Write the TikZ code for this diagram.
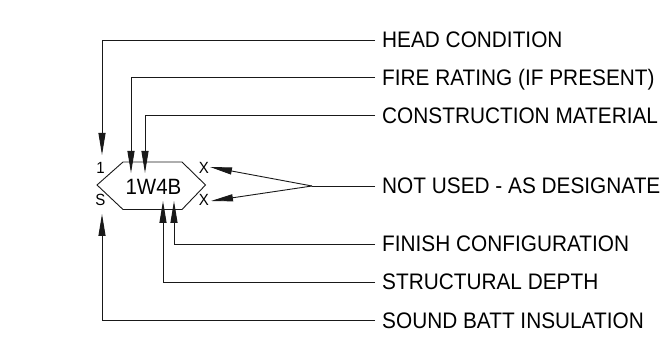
\documentclass[tikz,border=0pt]{standalone}
\usepackage{fontspec}
\usepackage{graphicx}
\setmainfont{Liberation Sans}
\usetikzlibrary{arrows.meta}
\newcommand{\vstretch}[1]{\scalebox{1}[1.08]{#1}}
\begin{document}
\begin{tikzpicture}[x=1pt,y=-1pt,
  lbl/.style={anchor=west, inner sep=0pt, text height=16pt, text depth=0pt, font=\fontsize{20.8}{24}\selectfont},
  small/.style={inner sep=0pt, text height=11.6pt, text depth=0pt, font=\fontsize{15}{18}\selectfont},
  code/.style={inner sep=0pt, text height=15.8pt, text depth=0pt, font=\fontsize{20.5}{24}\selectfont},
  ln/.style={line width=0.9pt, draw=black!90},
  arr/.style={ln, -{Triangle[length=22pt,width=7pt]}}]
\useasboundingbox (0,0) rectangle (662,358);
% labels
\node[lbl] (head) at (382,40) {\vstretch{HEAD CONDITION}};
\node[lbl] (fire) at (382,77.5) {\vstretch{FIRE RATING (IF PRESENT)}};
\node[lbl] (cons) at (382,115.5) {\vstretch{CONSTRUCTION MATERIAL}};
\node[lbl] (nu) at (382,186) {\vstretch{NOT USED - AS DESIGNATE}};
\node[lbl] (fin) at (382,244) {\vstretch{FINISH CONFIGURATION}};
\node[lbl] (str) at (382,282) {\vstretch{STRUCTURAL DEPTH}};
\node[lbl] (snd) at (382,320.5) {\vstretch{SOUND BATT INSULATION}};
% hexagon
\draw[ln] (97,185) -- (123,162) -- (182,162) -- (205.5,185) -- (182,209.5) -- (123,209.5) -- cycle;
\node[code] (tag) at (153.5,186.5) {\vstretch{1W4B}};
\node[small] (one) at (100.5,167.5) {\vstretch{1}};
\node[small] (ess) at (100.5,199.5) {\vstretch{S}};
\node[small] (xa) at (204,167.5) {\vstretch{X}};
\node[small] (xb) at (204,199.5) {\vstretch{X}};
% tips
\coordinate (t1) at (102,155);
\coordinate (tf) at (131,173);
\coordinate (tc) at (145,173);
\coordinate (tfin) at (174,201);
\coordinate (tstr) at (163,201);
\coordinate (tsnd) at (102,214);
\coordinate (txa) at (210,167);
\coordinate (txb) at (211,201);
\coordinate (conv) at (312,186);
% connectors
\draw[arr] ([xshift=-7pt]head.west) -| (t1);
\draw[arr] ([xshift=-7pt]fire.west) -| (tf);
\draw[arr] ([xshift=-7pt]cons.west) -| (tc);
\draw[arr] ([xshift=-7pt]fin.west) -| (tfin);
\draw[arr] ([xshift=-7pt]str.west) -| (tstr);
\draw[arr] ([xshift=-7pt]snd.west) -| (tsnd);
\draw[ln] ([xshift=-7pt]nu.west) -- (conv);
\draw[arr] (conv) -- (txa);
\draw[arr] (conv) -- (txb);
\end{tikzpicture}
\end{document}
